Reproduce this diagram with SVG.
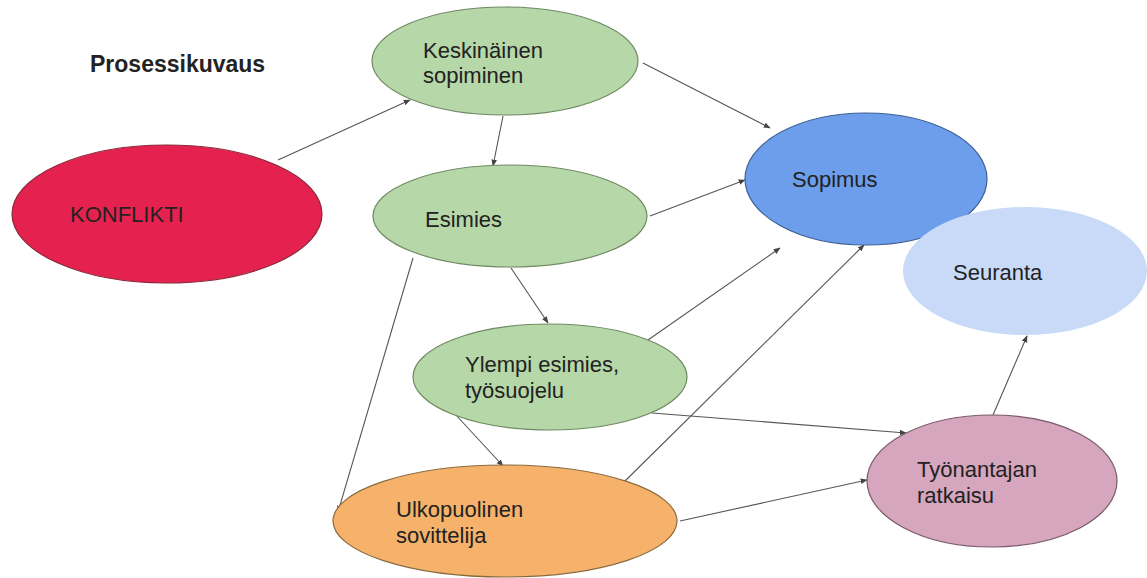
<svg xmlns="http://www.w3.org/2000/svg" width="1147" height="578" viewBox="0 0 1147 578">
<style>
text{font-family:"Liberation Sans",Arial,sans-serif;font-size:22px;fill:#222}
.t{font-weight:bold;font-size:23px;fill:#222}
.e{stroke-width:1.2}
.c line{stroke:#555;stroke-width:1.1;fill:none;marker-end:url(#ah)}
</style>
<defs>
<marker id="ah" viewBox="0 0 10 10" refX="9" refY="5" markerWidth="7" markerHeight="7" orient="auto" markerUnits="userSpaceOnUse">
<path d="M0,1 L10,5 L0,9 z" fill="#444"/>
</marker>
</defs>
<rect width="1147" height="578" fill="#fff"/>
<text class="t" x="90" y="72">Prosessikuvaus</text>
<g class="c" id="connectors">
<line x1="278" y1="160" x2="410" y2="100"/>
<line x1="503" y1="116" x2="493" y2="166"/>
<line x1="643" y1="63" x2="770" y2="128"/>
<line x1="650" y1="216" x2="745" y2="180"/>
<line x1="511" y1="268" x2="548" y2="323"/>
<line x1="413" y1="258" x2="338" y2="512"/>
<line x1="648" y1="340" x2="780" y2="248"/>
<line x1="623" y1="483" x2="864" y2="245"/>
<line x1="652" y1="413" x2="906" y2="433"/>
<line x1="455" y1="414" x2="503" y2="466"/>
<line x1="680" y1="521" x2="867" y2="480"/>
<line x1="993" y1="415" x2="1027" y2="336"/>
</g>
<g id="konflikti"><ellipse class="e" cx="167" cy="214" rx="155" ry="69" fill="#e5224f" stroke="#8a2a3a"/><text x="70" y="222">KONFLIKTI</text></g>
<g id="keskinainen"><ellipse class="e" cx="505" cy="61" rx="133" ry="54" fill="#b6d7a8" stroke="#6f8a62"/><text x="423" y="58">Keskinäinen</text><text x="423" y="83">sopiminen</text></g>
<g id="esimies"><ellipse class="e" cx="510" cy="216" rx="137" ry="51" fill="#b6d7a8" stroke="#6f8a62"/><text x="425" y="227">Esimies</text></g>
<g id="sopimus"><ellipse class="e" cx="866" cy="179" rx="121" ry="66" fill="#6d9eeb" stroke="#3d5f94"/><text x="792" y="187">Sopimus</text></g>
<g id="seuranta"><ellipse cx="1025" cy="271" rx="122" ry="64" fill="#c9daf8"/><text x="953" y="280">Seuranta</text></g>
<g id="ylempi"><ellipse class="e" cx="550" cy="377" rx="137" ry="53" fill="#b6d7a8" stroke="#6f8a62"/><text x="465" y="372">Ylempi esimies,</text><text x="465" y="398">työsuojelu</text></g>
<g id="ulkopuolinen"><ellipse class="e" cx="505" cy="521" rx="172" ry="56" fill="#f6b26b" stroke="#8a6a3d"/><text x="396" y="517">Ulkopuolinen</text><text x="396" y="543">sovittelija</text></g>
<g id="tyonantajan"><ellipse class="e" cx="992" cy="481" rx="125" ry="66" fill="#d5a6bd" stroke="#7a5a6a"/><text x="917" y="477">Työnantajan</text><text x="917" y="503">ratkaisu</text></g>
</svg>
